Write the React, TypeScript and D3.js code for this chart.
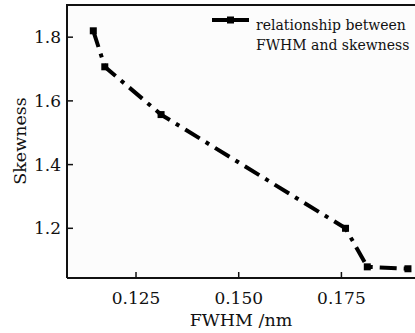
import React from "react";
import * as d3 from "d3";

const fwhm = [0.1146, 0.1174, 0.1311, 0.176, 0.1813, 0.1912];
const skewness = [1.82, 1.707, 1.557, 1.2, 1.079, 1.073];
const xTicks = [0.125, 0.15, 0.175];
const yTicks = [1.2, 1.4, 1.6, 1.8];
const legendLines = ["relationship between", "FWHM and skewness"];

export default function App() {
  const W = 415, H = 333;
  const left = 67, right = 417, top = 5, bottom = 278;
  const x = d3.scaleLinear().domain([0.1082, 0.1934]).range([left, right]);
  const y = d3.scaleLinear().domain([1.044, 1.901]).range([bottom, top]);
  const pts = fwhm.map((v, i) => [x(v), y(skewness[i])] as [number, number]);
  const line = d3.line()(pts) || "";
  const font = "'DejaVu Serif', serif";
  return (
    <svg width={W} height={H} style={{ position: "absolute", left: 0, top: 0, background: "#fff" }}>
      <rect x={left} y={top} width={right - left} height={bottom - top} fill="#fcfcfc" stroke="none" />
      <path d={`M${left},${bottom}V${top}H${right}`} fill="none" stroke="#111" strokeWidth={2} />
      <line x1={left} x2={right} y1={bottom} y2={bottom} stroke="#111" strokeWidth={2} />
      {xTicks.map((t) => (
        <g key={t}>
          <line x1={x(t)} x2={x(t)} y1={bottom} y2={bottom - 6} stroke="#111" strokeWidth={1.5} />
          <text x={x(t)} y={304} textAnchor="middle" fontFamily={font} fontSize={17} fill="#111">
            {d3.format(".3f")(t)}
          </text>
        </g>
      ))}
      {yTicks.map((t) => (
        <g key={t}>
          <line x1={left} x2={left + 6} y1={y(t)} y2={y(t)} stroke="#111" strokeWidth={1.5} />
          <text x={61} y={y(t) + 6} textAnchor="end" fontFamily={font} fontSize={17} fill="#111">
            {d3.format(".1f")(t)}
          </text>
        </g>
      ))}
      <text x={241} y={326} textAnchor="middle" fontFamily={font} fontSize={17.5} fill="#111">FWHM /nm</text>
      <text transform="translate(26,141) rotate(-90)" textAnchor="middle" fontFamily={font} fontSize={17.5} fill="#111">Skewness</text>
      <path d={line} fill="none" stroke="#000" strokeWidth={4} strokeDasharray="17 7 4 7" />
      {pts.map(([px, py], i) => (
        <rect key={i} x={px - 3.5} y={py - 3.5} width={7} height={7} fill="#000" />
      ))}
      <line x1={212} x2={249} y1={20} y2={20} stroke="#000" strokeWidth={4} />
      <rect x={227} y={16.5} width={7} height={7} fill="#000" />
      {legendLines.map((s, i) => (
        <text key={i} x={256} y={30 + i * 20} fontFamily={font} fontSize={14} fill="#111">{s}</text>
      ))}
    </svg>
  );
}
